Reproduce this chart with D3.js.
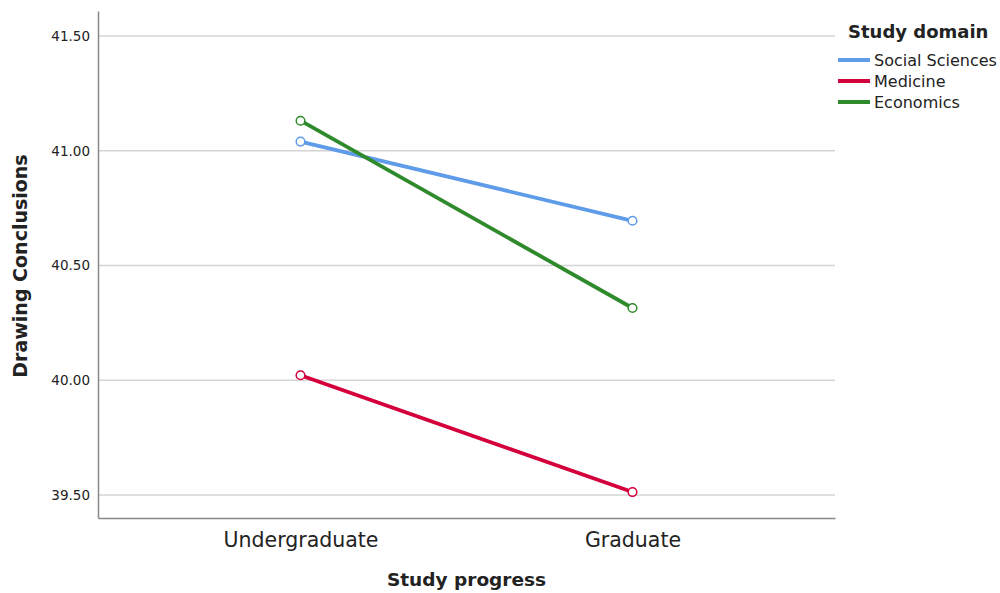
<!DOCTYPE html>
<html>
<head>
<meta charset="utf-8">
<script src="https://cdn.jsdelivr.net/npm/d3@7"></script>
<style>
  body { margin: 0; background: #fff; }
  text { font-family: "DejaVu Sans", sans-serif; fill: #222; }
</style>
</head>
<body>
<div id="chart"></div>
<script>
// data
var progress = ["Undergraduate", "Graduate"]
var domains = ["Social Sciences", "Medicine", "Economics"]
var socialSciences = [41.04, 40.695]
var medicine = [40.022, 39.513]
var economics = [41.131, 40.315]
var yTicks = [39.5, 40.0, 40.5, 41.0, 41.5]

var seriesValues = [socialSciences, medicine, economics]
var colors = ["#5e9be8", "#d4003c", "#2f8a2b"]

var W = 1000, H = 593
var margin = {top: 11, right: 165, bottom: 75, left: 98}
var width = W - margin.left - margin.right,
    height = H - margin.top - margin.bottom

var svg = d3.select("#chart").append("svg")
    .attr("width", W)
    .attr("height", H)

var g = svg.append("g")
    .attr("transform", "translate(" + margin.left + "," + margin.top + ")")

var x = d3.scalePoint()
    .domain(progress)
    .range([0, width])
    .padding(0.61)

var y = d3.scaleLinear()
    .domain([39.40, 41.609])
    .range([height, 0])

// grid lines
g.selectAll(".grid")
  .data(yTicks)
  .enter().append("line")
    .attr("x1", 0)
    .attr("x2", width)
    .attr("y1", function(d) { return y(d) })
    .attr("y2", function(d) { return y(d) })
    .attr("stroke", "#d4d4d4")
    .attr("stroke-width", 1.5)

// y axis
var yAxis = g.append("g")
    .call(d3.axisLeft(y).tickValues(yTicks).tickFormat(d3.format(".2f")).tickSize(0).tickPadding(8))
yAxis.select(".domain").attr("stroke", "#888").attr("stroke-width", 1.5)
yAxis.selectAll("text").style("font-size", "13.5px").attr("fill", "#222")

// x axis
var xAxis = g.append("g")
    .attr("transform", "translate(0," + height + ")")
    .call(d3.axisBottom(x).tickSize(0).tickPadding(14))
xAxis.select(".domain").attr("stroke", "#888").attr("stroke-width", 1.5)
xAxis.selectAll("text").style("font-size", "20.5px").attr("fill", "#222")

// lines
var line = d3.line()
    .x(function(d, i) { return x(progress[i]) })
    .y(function(d) { return y(d) })

seriesValues.forEach(function(vals, a) {
  g.append("path")
    .datum(vals)
    .attr("fill", "none")
    .attr("stroke", colors[a])
    .attr("stroke-width", 3.8)
    .attr("d", line)

  g.selectAll(".pt" + a)
    .data(vals)
    .enter().append("circle")
      .attr("cx", function(d, i) { return x(progress[i]) })
      .attr("cy", function(d) { return y(d) })
      .attr("r", 4.3)
      .attr("fill", "#fff")
      .attr("stroke", colors[a])
      .attr("stroke-width", 1.5)
})

// axis titles
svg.append("text")
  .attr("x", margin.left + width / 2)
  .attr("y", 586)
  .attr("text-anchor", "middle")
  .style("font-size", "18.5px")
  .style("font-weight", "bold")
  .text("Study progress")

svg.append("text")
  .attr("transform", "translate(27," + 266 + ") rotate(-90)")
  .attr("text-anchor", "middle")
  .style("font-size", "19px")
  .style("font-weight", "bold")
  .text("Drawing Conclusions")

// legend
var legend = svg.append("g").attr("transform", "translate(838,0)")
legend.append("text")
  .attr("x", 10)
  .attr("y", 38)
  .style("font-size", "18px")
  .style("font-weight", "bold")
  .text("Study domain")

domains.forEach(function(name, i) {
  var ly = 60 + i * 21
  legend.append("line")
    .attr("x1", 0).attr("x2", 32)
    .attr("y1", ly).attr("y2", ly)
    .attr("stroke", colors[i])
    .attr("stroke-width", 4)
  legend.append("text")
    .attr("x", 36)
    .attr("y", ly + 6)
    .style("font-size", "16px")
    .text(name)
})
</script>
</body>
</html>
